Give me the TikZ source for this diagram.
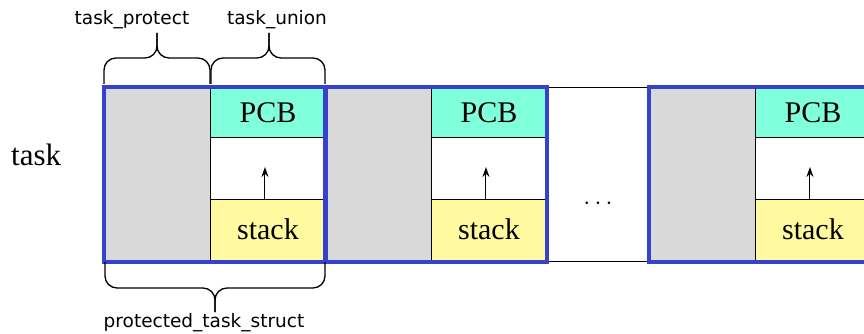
\documentclass[tikz,border=0pt]{standalone}
\usepackage{fontspec}
\setmainfont{Liberation Serif}
\newfontfamily\labelfont{DejaVu Sans}
\usetikzlibrary{arrows.meta}

\definecolor{outlineblue}{RGB}{55,66,204}
\definecolor{protgray}{RGB}{217,217,217}
\definecolor{pcbcyan}{RGB}{128,255,220}
\definecolor{stackyellow}{RGB}{255,250,160}

\tikzset{
  cell/.style={draw=black, line width=0.9pt, inner sep=0pt, anchor=north west,
    font=\fontsize{30}{36}\selectfont},
  protcell/.style={cell, fill=protgray, minimum width=106pt, minimum height=174pt},
  pcbcell/.style={cell, fill=pcbcyan, minimum width=115pt, minimum height=50pt},
  gapcell/.style={cell, fill=white, minimum width=115pt, minimum height=62pt},
  stackcell/.style={cell, fill=stackyellow, minimum width=115pt, minimum height=62pt},
  dotscell/.style={cell, fill=white, minimum width=102pt, minimum height=174pt},
  structbox/.style={draw=outlineblue, line width=4pt},
  growarrow/.style={-{Stealth[length=10pt,width=7pt]}, line width=1pt},
  curlybrace/.style={draw=black, line width=1.3pt, rounded corners=12pt},
  sanslabel/.style={font=\labelfont\fontsize{18.5}{22}\selectfont, anchor=base, inner sep=0pt},
  seriflabel/.style={font=\fontsize{31}{37}\selectfont, anchor=base west, inner sep=0pt},
}

\begin{document}
\begin{tikzpicture}[x=1pt, y=-1pt]
  \useasboundingbox (0,0) rectangle (864,334);

  % one task block: protected area, PCB, free space, stack
  \foreach \n/\L in {1/104, 2/325, 3/649} {
    \node[protcell] (prot\n) at (\L,87) {};
    \node[pcbcell] (pcb\n) at (\L+106,87) {PCB};
    \node[gapcell] (gap\n) at (\L+106,137) {};
    \node[stackcell] (stack\n) at (\L+106,199) {\raisebox{3pt}{stack}};
  }

  % ellipsis between blocks
  \node[dotscell] (dots) at (547,87) {};
  \node[font=\fontsize{30}{36}\selectfont, inner sep=0pt] (dotstext) at (598,204) {$\cdots$};

  % stack growth arrows
  \foreach \n in {1,2,3} {
    \coordinate (arrbase\n) at ([xshift=-3pt]stack\n.north);
    \coordinate (arrtip\n) at ([xshift=-3pt,yshift=32pt]stack\n.north);
    \draw[growarrow] (arrbase\n) -- (arrtip\n);
  }

  % blue outlines of protected_task_struct
  \foreach \n in {1,2,3} {
    \draw[structbox] (prot\n.north west) rectangle (stack\n.south east);
  }

  % labels
  \node[seriflabel] (tasklbl) at (11,165) {task};
  \node[sanslabel] (protlbl) at (132,25) {task\_protect};
  \node[sanslabel] (unionlbl) at (277,25) {task\_union};
  \node[sanslabel] (structlbl) at (204,327) {protected\_task\_struct};

  % braces
  \draw[curlybrace] (104,84) -- (104,58) -- (157,58) -- (157,33);
  \draw[curlybrace] (157,33) -- (157,58) -- (210,58) -- (210,84);
  \draw[curlybrace] (211,84) -- (211,58) -- (269,58) -- (269,33);
  \draw[curlybrace] (269,33) -- (269,58) -- (325,58) -- (325,84);
  \draw[curlybrace] (105,262) -- (105,288) -- (215,288) -- (215,312);
  \draw[curlybrace] (215,312) -- (215,288) -- (325,288) -- (325,262);
\end{tikzpicture}
\end{document}
